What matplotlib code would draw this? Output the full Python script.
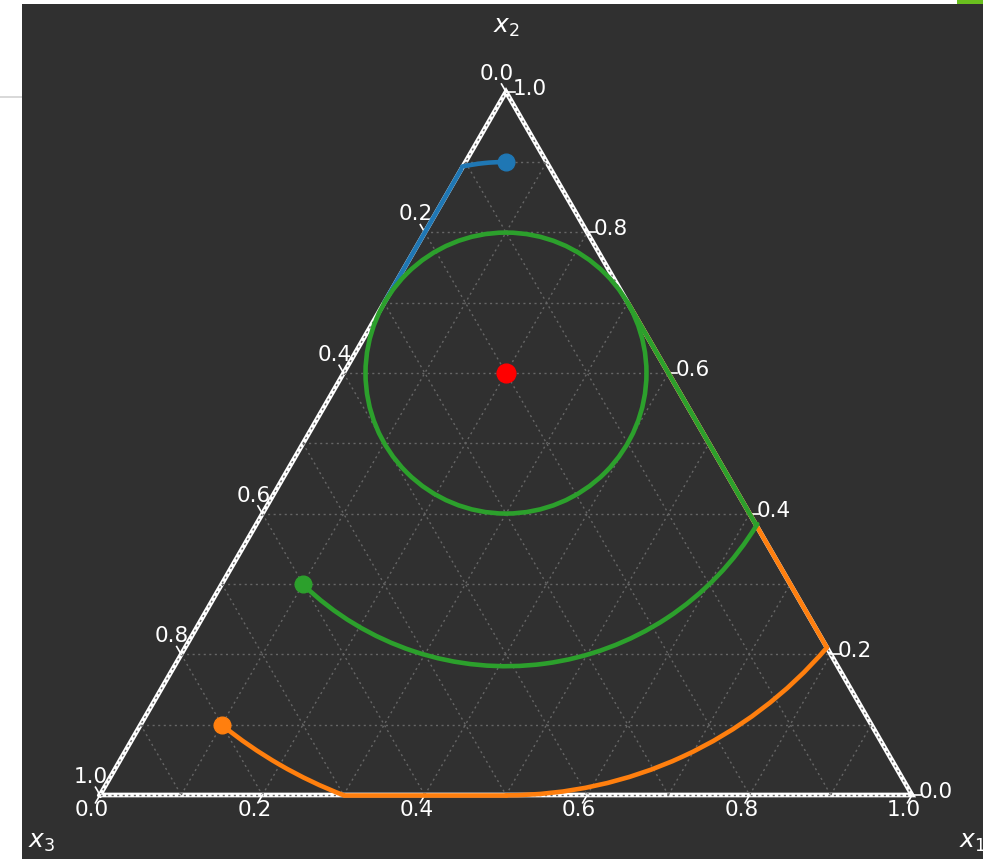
import numpy as np
import matplotlib
matplotlib.use("Agg")
import matplotlib.pyplot as plt
from matplotlib.patches import Arc, Circle, Rectangle

SQ3 = np.sqrt(3) / 2
BG = "#303030"

# ternary points are (x1, x2, x3); x1 runs along the base, x2 to the top
TICKS = [0.0, 0.2, 0.4, 0.6, 0.8, 1.0]
GRID = [0.0, 0.1, 0.2, 0.3, 0.4, 0.5, 0.6, 0.7, 0.8, 0.9, 1.0]

CENTER = (0.2, 0.6, 0.2)
ORBIT_R = 0.173  # closed orbit, cartesian units

# trajectory pieces: ("arc", radius, theta_from, theta_to) around CENTER,
# or ("edge", from, to) sliding along the simplex boundary
BLUE_START = (0.05, 0.9, 0.05)
BLUE_PATH = [("arc", 0.260, 90, 102),
             ("edge", (0.0, 0.89, 0.11), (0.0, 0.7, 0.3))]

ORANGE_START = (0.1, 0.1, 0.8)
ORANGE_PATH = [("arc", 0.557, 231, 249),
               ("edge", (0.30, 0.0, 0.70), (0.5, 0.0, 0.5)),
               ("arc", 0.520, 270, 319.5),
               ("edge", (0.79, 0.21, 0.0), (0.3, 0.7, 0.0))]

GREEN_START = (0.1, 0.3, 0.6)
GREEN_PATH = [("arc", 0.361, 226, 329),
              ("edge", (0.616, 0.384, 0.0), (0.3, 0.7, 0.0))]

TRAJ = [("#1f77b4", BLUE_START, BLUE_PATH),
        ("#ff7f0e", ORANGE_START, ORANGE_PATH),
        ("#2ca02c", GREEN_START, GREEN_PATH)]


def proj(p):
    x1, x2, x3 = p
    s = x1 + x2 + x3
    return (x1 + x2 / 2) / s, x2 * SQ3 / s


PX = 1 / 812  # one pixel in cartesian units

fig = plt.figure(figsize=(9.83, 8.59), dpi=100, facecolor="white")
ax = fig.add_axes([22 / 983, 0, 961 / 983, 855 / 859])
ax.set_facecolor(BG)
ax.set_xlim(-78 * PX, 883 * PX)
ax.set_ylim(-64 * PX, 791 * PX)
ax.set_xticks([]); ax.set_yticks([])
for s in ax.spines.values():
    s.set_visible(False)

# boundary
corners = [proj((0, 0, 1)), proj((1, 0, 0)), proj((0, 1, 0)), proj((0, 0, 1))]
ax.plot(*zip(*corners), color="white", lw=3.4, zorder=2, solid_joinstyle="miter")

# grid: constant x1, x2, x3 lines
gkw = dict(color="#666666", lw=1.0, ls=(0, (1.5, 2.5)), zorder=3)
for v in GRID:
    for a, b in [((v, 0, 1 - v), (v, 1 - v, 0)),
                 ((0, v, 1 - v), (1 - v, v, 0)),
                 ((0, 1 - v, v), (1 - v, 0, v))]:
        (xa, ya), (xb, yb) = proj(a), proj(b)
        ax.plot([xa, xb], [ya, yb], **gkw)

# ticks and tick labels
L = 9 * PX
tkw = dict(color="white", lw=1.2, zorder=3)
fkw = dict(color="white", fontsize=15.5, ha="center", va="center")
for v in TICKS:
    # bottom axis: x1
    x, y = proj((v, 0, 1 - v))
    ax.plot([x, x - 0.5 * L], [y, y - SQ3 * L], **tkw)
    ax.text(x - 8 * PX, y - 15 * PX, f"{v:.1f}", **fkw)
    # right axis: x2
    x, y = proj((1 - v, v, 0))
    ax.plot([x, x + L], [y, y], **tkw)
    ax.text(x + 24 * PX, y + 3 * PX, f"{v:.1f}", **fkw)
    # left axis: x3
    x, y = proj((0, 1 - v, v))
    ax.plot([x, x - 0.5 * L], [y, y + SQ3 * L], **tkw)
    ax.text(x - 9 * PX, y + 18 * PX, f"{v:.1f}", **fkw)

lkw = dict(color="white", fontsize=18, ha="center", va="center")
x, y = proj((0, 1, 0))
ax.text(x, y + 65 * PX, r"$x_2$", **lkw)
x, y = proj((0, 0, 1))
ax.text(x - 58 * PX, y - 47 * PX, r"$x_3$", **lkw)
x, y = proj((1, 0, 0))
ax.text(x + 60 * PX, y - 47 * PX, r"$x_1$", **lkw)

# trajectories
cx, cy = proj(CENTER)
lw = 3.3
for z, (color, start, path) in enumerate(TRAJ):
    for piece in path:
        if piece[0] == "arc":
            _, r, t0, t1 = piece
            ax.add_patch(Arc((cx, cy), 2 * r, 2 * r, theta1=t0, theta2=t1,
                             color=color, lw=lw, capstyle="round", zorder=4 + z))
        else:
            (xa, ya), (xb, yb) = proj(piece[1]), proj(piece[2])
            ax.plot([xa, xb], [ya, yb], color=color, lw=lw,
                    solid_capstyle="round", zorder=4 + z)
    sx, sy = proj(start)
    ax.plot(sx, sy, "o", color=color, ms=12, zorder=8)

ax.add_patch(Circle((cx, cy), ORBIT_R, fill=False, color="#2ca02c", lw=lw, zorder=6))
ax.plot(cx, cy, "o", color="red", ms=13.5, zorder=9)

# page frame bits
fig.add_artist(Rectangle((0, 1 - 98 / 859), 22 / 983, 2 / 859,
                         transform=fig.transFigure, color="#d9d9d9", lw=0))
fig.add_artist(Rectangle((957 / 983, 1 - 4 / 859), 26 / 983, 4 / 859,
                         transform=fig.transFigure, color="#6abf1e", lw=0))

fig.savefig("out.png", dpi=100, facecolor="white")
